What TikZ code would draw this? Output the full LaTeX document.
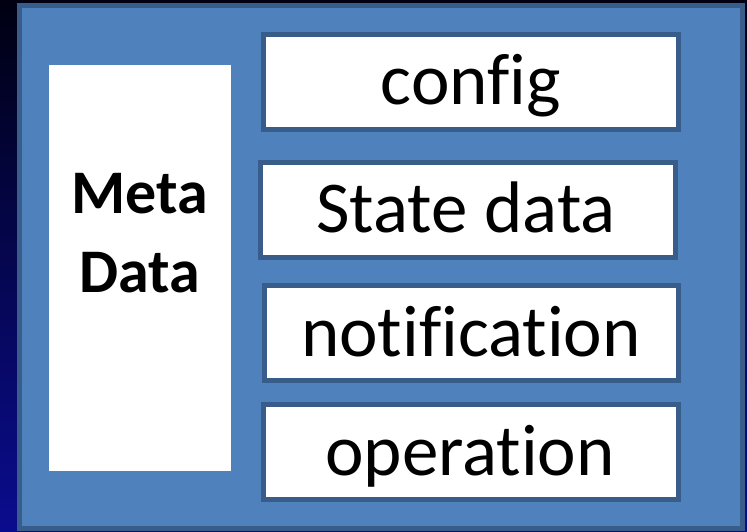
\documentclass[tikz,border=0pt]{standalone}
\usepackage{fontspec}
\setmainfont[RawFeature={-liga}]{Carlito}
\definecolor{panelfill}{RGB}{79,129,189}
\definecolor{panelline}{RGB}{56,93,138}
\definecolor{bgtop}{RGB}{0,0,18}
\definecolor{bgbottom}{RGB}{10,12,142}
\tikzset{
  panel/.style={fill=panelfill, draw=panelline, line width=5pt},
  itembox/.style={fill=white, draw=panelline, line width=5pt},
  itemtext/.style={font=\fontsize{73}{78}\selectfont, anchor=base, inner sep=0pt},
  metatext/.style={font=\bfseries\fontsize{62}{79}\selectfont, align=center, anchor=base, inner sep=0pt},
}
\begin{document}
\begin{tikzpicture}[x=1pt, y=-1pt]
  \useasboundingbox (0,0) rectangle (747,531);
  % dark backdrop
  \shade[top color=bgtop, bottom color=bgbottom] (0,0) rectangle (747,531);
  % outer panel
  \draw[panel] (19.75,5.5) rectangle (742.5,528);
  % metadata column (base anchor sits on the last line)
  \fill[white] (49,65) rectangle (231,471);
  \node[metatext] (meta) at (140,292) {Meta\\Data};
  % stacked item boxes
  \draw[itembox] (263.5,34.5) rectangle (678.5,129.5);
  \node[itemtext] (config) at (471,104) {config};
  \draw[itembox] (260.5,162.5) rectangle (675.5,257.5);
  \node[itemtext] (state) at (466,232) {State data};
  \draw[itembox] (264.5,285.5) rectangle (678.5,380.5);
  \node[itemtext] (notif) at (471,356) {notification};
  \draw[itembox] (263.5,404.5) rectangle (678.5,499.5);
  \node[itemtext] (oper) at (470,475) {operation};
\end{tikzpicture}
\end{document}
